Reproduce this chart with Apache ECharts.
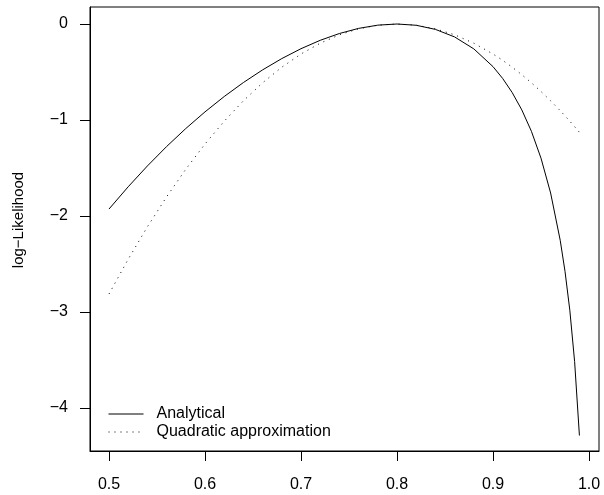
<!DOCTYPE html>
<html>
<head>
<meta charset="utf-8">
<script src="https://cdn.jsdelivr.net/npm/echarts@6/dist/echarts.min.js"></script>
<style>
  html, body { margin: 0; padding: 0; background: #fff; }
  #chart { width: 604px; height: 495px; }
</style>
</head>
<body>
<div id="chart"></div>
<script>
// probability values along the x axis
const pValues = [0.50, 0.52, 0.54, 0.56, 0.58, 0.60, 0.62, 0.64, 0.66, 0.68, 0.70,
  0.72, 0.74, 0.76, 0.78, 0.80, 0.82, 0.84, 0.86, 0.88, 0.90, 0.91, 0.92, 0.93,
  0.94, 0.95, 0.96, 0.97, 0.975, 0.98, 0.985, 0.99];
const analytical = [-1.9274, -1.6953, -1.4785, -1.2765, -1.0888, -0.9152, -0.7554,
  -0.6096, -0.4777, -0.3601, -0.2573, -0.1699, -0.0990, -0.0457, -0.0119, 0,
  -0.0132, -0.0560, -0.1348, -0.2592, -0.4440, -0.5664, -0.7145, -0.8951, -1.1178,
  -1.3978, -1.7603, -2.2528, -2.5763, -2.9817, -3.5163, -4.2867];
const quadratic = [-2.8125, -2.45, -2.1125, -1.8, -1.5125, -1.25, -1.0125, -0.8,
  -0.6125, -0.45, -0.3125, -0.2, -0.1125, -0.05, -0.0125, 0, -0.0125, -0.05,
  -0.1125, -0.2, -0.3125, -0.3781, -0.45, -0.5281, -0.6125, -0.7031, -0.8, -0.9031,
  -0.9570, -1.0125, -1.0695, -1.1281];
const xTicks = [0.5, 0.6, 0.7, 0.8, 0.9, 1.0];
const yTicks = [0, -1, -2, -3, -4];

const chart = echarts.init(document.getElementById('chart'));
const font = 'Liberation Sans, Arial, sans-serif';

chart.setOption({
  animation: false,
  textStyle: { fontFamily: font },
  grid: {
    left: 90, top: 7, width: 509, height: 444,
    show: true, borderColor: '#000', borderWidth: 1
  },
  legend: {
    orient: 'vertical',
    left: 103, top: 401,
    itemWidth: 35, itemHeight: 14, itemGap: 2,
    itemStyle: { color: 'transparent', borderWidth: 0 },
    lineStyle: { width: 1, opacity: 1 },
    textStyle: { fontSize: 16, color: '#000', padding: [0, 0, 0, 8] },
    data: ['Analytical', 'Quadratic approximation']
  },
  xAxis: {
    type: 'value',
    min: 0.4802, max: 1.0104,
    axisLine: { show: true, onZero: false, lineStyle: { color: '#000' } },
    splitLine: { show: false },
    axisTick: { show: true, length: 10, customValues: xTicks, lineStyle: { color: '#000' } },
    axisLabel: {
      customValues: xTicks, margin: 26, fontSize: 16, color: '#000',
      formatter: v => v.toFixed(1)
    }
  },
  yAxis: {
    type: 'value',
    min: -4.4479, max: 0.1771,
    name: 'log\u2212Likelihood',
    nameLocation: 'middle',
    nameGap: 64,
    nameTextStyle: { fontSize: 15, color: '#000', padding: [0, 0, 0, 18] },
    axisLine: { show: true, onZero: false, lineStyle: { color: '#000' } },
    splitLine: { show: false },
    axisTick: { show: true, length: 10, customValues: yTicks, lineStyle: { color: '#000' } },
    axisLabel: {
      customValues: yTicks, margin: 22, fontSize: 16, color: '#000',
      formatter: v => String(v).replace('-', '\u2212')
    }
  },
  series: [
    {
      name: 'Analytical',
      type: 'line',
      symbol: 'none',
      data: pValues.map((p, i) => [p, analytical[i]]),
      lineStyle: { color: '#000', width: 1, type: 'solid' },
      itemStyle: { color: '#000' }
    },
    {
      name: 'Quadratic approximation',
      type: 'line',
      symbol: 'none',
      data: pValues.map((p, i) => [p, quadratic[i]]),
      lineStyle: { color: '#000', width: 1, type: [1, 5] },
      itemStyle: { color: '#000' }
    }
  ]
});
</script>
</body>
</html>
